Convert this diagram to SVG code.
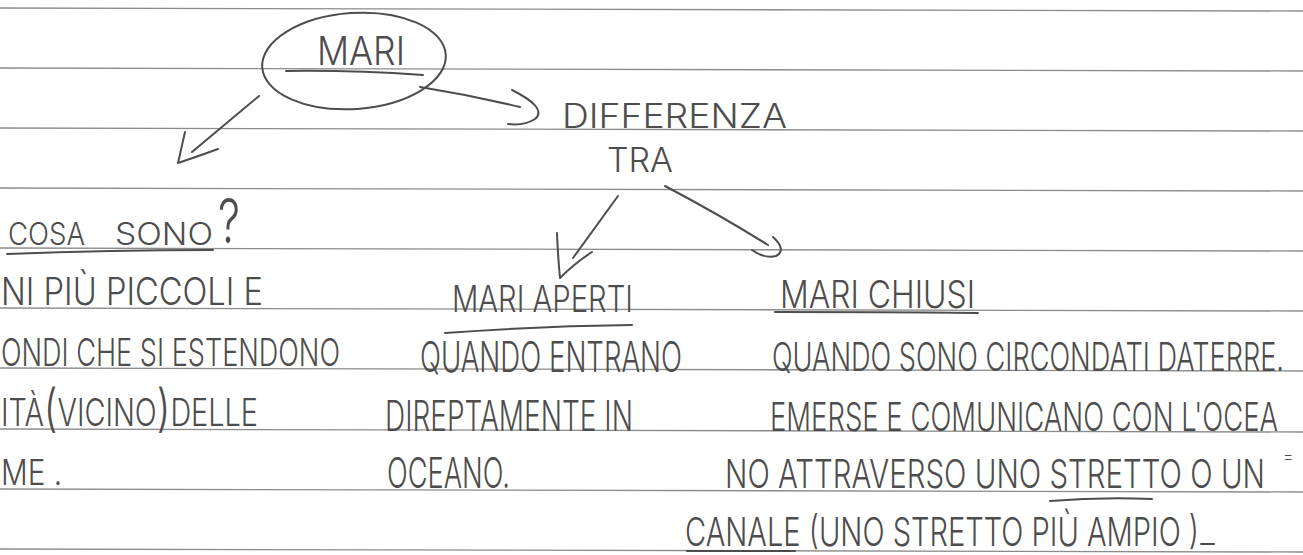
<svg xmlns="http://www.w3.org/2000/svg" width="1303" height="555" viewBox="0 0 1303 555">
<defs>
<style>
.rule{stroke:#8c8c8c;stroke-width:1.4;fill:none}
.ink{fill:#4d4d4d;font-family:Inter,"Open Sans","Liberation Sans",sans-serif;font-weight:300}
.pen{stroke:#4d4d4d;stroke-width:2;fill:none;stroke-linecap:round;stroke-linejoin:round}
</style>
</defs>
<rect width="1303" height="555" fill="#ffffff"/>
<g id="rules">
<line class="rule" x1="0" y1="8" x2="1303" y2="11"/>
<line class="rule" x1="0" y1="68" x2="1303" y2="71"/>
<line class="rule" x1="0" y1="128" x2="1303" y2="131"/>
<line class="rule" x1="0" y1="188" x2="1303" y2="191"/>
<line class="rule" x1="0" y1="248" x2="1303" y2="251"/>
<line class="rule" x1="0" y1="308" x2="1303" y2="311"/>
<line class="rule" x1="0" y1="368" x2="1303" y2="371"/>
<line class="rule" x1="0" y1="429" x2="1303" y2="432"/>
<line class="rule" x1="0" y1="489" x2="1303" y2="492"/>
<line class="rule" x1="0" y1="549" x2="1303" y2="552"/>
</g>
<g id="connectors">
<path class="pen" d="M259,96 L192,152"/>
<path class="pen" d="M185,132 Q181,150 178,163 Q196,157 218,149"/>
<path class="pen" d="M420,87 Q470,95 520,107"/>
<path class="pen" d="M512,90 Q548,108 535,119 Q524,126 508,124"/>
<path class="pen" d="M618,196 L573,258"/>
<path class="pen" d="M557,233 Q558,258 560,278 Q575,263 592,252"/>
<path class="pen" d="M665,186 Q720,215 768,245"/>
<path class="pen" d="M773,237 Q787,250 776,256 Q765,259 752,250"/>
</g>
<g id="node-mari">
<ellipse class="pen" cx="354" cy="61" rx="92" ry="48" transform="rotate(-4 354 61)"/>
<text class="ink" transform="translate(317 65) scale(1 1.35)" font-size="29.6" textLength="88" lengthAdjust="spacingAndGlyphs">MARI</text>
<path class="pen" d="M286,71 Q350,70 423,75"/>
</g>
<g id="node-differenza">
<text class="ink" transform="translate(562 128) scale(1 1.35)" font-size="25" textLength="225" lengthAdjust="spacingAndGlyphs">DIFFERENZA</text>
<text class="ink" transform="translate(607 172) scale(1 1.35)" font-size="25" textLength="66" lengthAdjust="spacingAndGlyphs">TRA</text>
</g>
<g id="node-cosa-sono">
<text class="ink" transform="translate(8 245) scale(1 1.35)" font-size="23" textLength="77" lengthAdjust="spacingAndGlyphs">COSA</text>
<text class="ink" transform="translate(115 245) scale(1 1.35)" font-size="23" textLength="98" lengthAdjust="spacingAndGlyphs">SONO</text>
<text class="ink" transform="translate(218 243) scale(1 1.35)" font-size="46" textLength="22" lengthAdjust="spacingAndGlyphs">?</text>
<path class="pen" d="M7,254 Q110,250 213,250"/>
<text class="ink" transform="translate(1 305) scale(1 1.35)" font-size="28" textLength="262" lengthAdjust="spacingAndGlyphs">NI PIÙ PICCOLI E</text>
<text class="ink" transform="translate(1 366) scale(1 1.35)" font-size="28" textLength="339" lengthAdjust="spacingAndGlyphs">ONDI CHE SI ESTENDONO</text>
<text class="ink" transform="translate(1 426) scale(1 1.35)" font-size="28" textLength="257" lengthAdjust="spacingAndGlyphs">ITÀ<tspan font-size="38">(</tspan>VICINO<tspan font-size="38">)</tspan>DELLE</text>
<text class="ink" transform="translate(1 485) scale(1 1.35)" font-size="26.5" textLength="61" lengthAdjust="spacingAndGlyphs">ME .</text>
</g>
<g id="node-mari-aperti">
<text class="ink" transform="translate(452 312) scale(1 1.35)" font-size="26.7" textLength="181" lengthAdjust="spacingAndGlyphs">MARI APERTI</text>
<path class="pen" d="M445,333 Q540,326 632,325"/>
<text class="ink" transform="translate(420 372) scale(1 1.35)" font-size="31" textLength="262" lengthAdjust="spacingAndGlyphs">QUANDO ENTRANO</text>
<text class="ink" transform="translate(385 431) scale(1 1.35)" font-size="31" textLength="248" lengthAdjust="spacingAndGlyphs">DIREPTAMENTE IN</text>
<text class="ink" transform="translate(387 488) scale(1 1.35)" font-size="31" textLength="123" lengthAdjust="spacingAndGlyphs">OCEANO.</text>
</g>
<g id="node-mari-chiusi">
<text class="ink" transform="translate(780 308) scale(1 1.35)" font-size="28" textLength="195" lengthAdjust="spacingAndGlyphs">MARI CHIUSI</text>
<path class="pen" d="M775,312 Q880,312 978,313"/>
<text class="ink" transform="translate(772 371) scale(1 1.48)" font-size="27" textLength="512" lengthAdjust="spacingAndGlyphs">QUANDO SONO CIRCONDATI DATERRE.</text>
<text class="ink" transform="translate(770 431) scale(1 1.48)" font-size="27" textLength="508" lengthAdjust="spacingAndGlyphs">EMERSE E COMUNICANO CON L'OCEA</text>
<text class="ink" x="1283" y="462" font-size="16">=</text>
<text class="ink" transform="translate(725 488) scale(1 1.35)" font-size="29.6" textLength="540" lengthAdjust="spacingAndGlyphs">NO ATTRAVERSO UNO STRETTO O UN</text>
<path class="pen" d="M1050,501 Q1100,497 1152,499"/>
<text class="ink" transform="translate(685 546) scale(1 1.35)" font-size="29.6" textLength="514" lengthAdjust="spacingAndGlyphs">CANALE (UNO STRETTO PIÙ AMPIO )</text>
<path class="pen" d="M1201,544 L1214,544"/>
<path class="pen" d="M687,551 L795,551" stroke-width="3"/>
</g>
</svg>
